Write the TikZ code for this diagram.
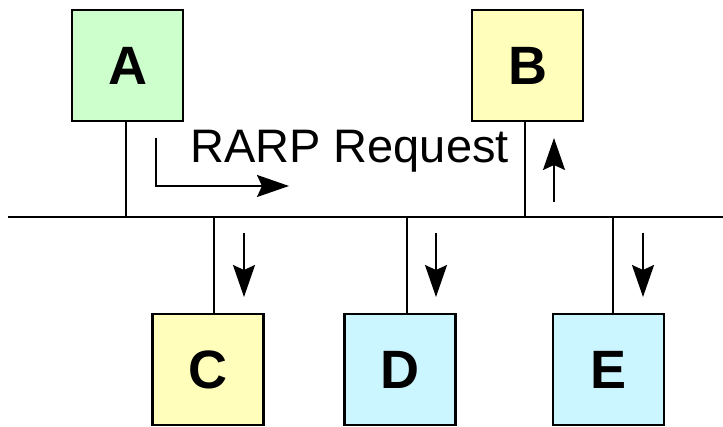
\documentclass[tikz,border=0pt]{standalone}
\usepackage{fontspec}
\setmainfont{Liberation Sans}
\usetikzlibrary{arrows.meta}
\definecolor{hostgreen}{HTML}{CCFFCC}
\definecolor{hostyellow}{HTML}{FFFFBB}
\definecolor{hostcyan}{HTML}{CCF6FF}
\begin{document}
\begin{tikzpicture}[x=1pt,y=1pt,
  host/.style={draw=black, line width=2.6pt, minimum width=111pt, minimum height=111pt,
    inner sep=0pt, font=\fontsize{54}{60}\selectfont\bfseries},
  wire/.style={line width=2pt},
  flow/.style={line width=2pt, -{Stealth[length=32pt,width=22pt,inset=5pt]}}]
\useasboundingbox (0,0) rectangle (723,427);
% hosts
\node[host, fill=hostgreen]  (A) at (127.5,361.5) {A};
\node[host, fill=hostyellow] (B) at (527.5,361.5) {B};
\node[host, fill=hostyellow] (C) at (208,57.5) {C};
\node[host, fill=hostcyan]   (D) at (400,57.5) {D};
\node[host, fill=hostcyan]   (E) at (608.5,57.5) {E};
% shared bus
\coordinate (busL) at (8,209.5);
\coordinate (busR) at (723,209.5);
\draw[wire] (busL) -- (busR);
% drop cables, slightly off the box centres
\foreach \h/\dx in {A/-1.5,B/-2.5} \draw[wire] ([xshift=\dx pt]\h.south) -- ([xshift=\dx pt]\h.south |- busL);
\foreach \h/\dx in {C/6,D/7,E/4.5} \draw[wire] ([xshift=\dx pt]\h.north) -- ([xshift=\dx pt]\h.north |- busL);
% request travel
\coordinate (r0) at (156,289);
\coordinate (r1) at (156,241);
\coordinate (r2) at (289,241);
\draw[flow] (r0) -- (r1) -- (r2);
\node[anchor=base west, font=\fontsize{47}{52}\selectfont, inner sep=0pt] (lbl) at (190,264) {RARP Request};
\coordinate (b0) at (554,225);
\coordinate (b1) at (554,289);
\draw[flow] (b0) -- (b1);
\foreach \h/\x in {C/244,D/436,E/643} {
  \coordinate (\h0) at (\x,194);
  \coordinate (\h1) at (\x,130);
  \draw[flow] (\h0) -- (\h1);
}
\end{tikzpicture}
\end{document}
